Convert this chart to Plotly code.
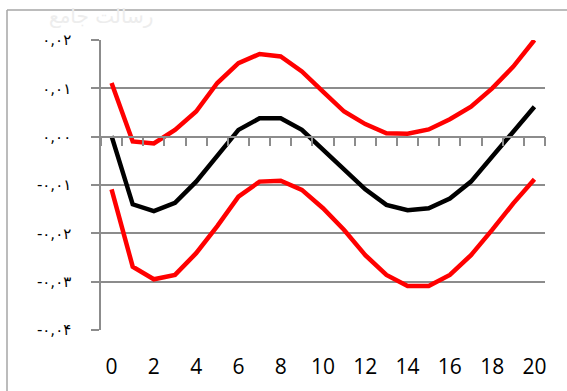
import plotly.graph_objects as go

x_vals = list(range(0, 21))
upper_red = [0.0111, -0.0010, -0.0014, 0.0014, 0.0052, 0.0111, 0.0152, 0.0171, 0.0166, 0.0135,
             0.0093, 0.0052, 0.0026, 0.0007, 0.0006, 0.0015, 0.0036, 0.0062, 0.0100, 0.0145, 0.0200]
middle_black = [0.0001, -0.0140, -0.0154, -0.0137, -0.0093, -0.0040, 0.0014, 0.0038, 0.0038, 0.0014,
                -0.0028, -0.0069, -0.0109, -0.0141, -0.0152, -0.0148, -0.0128, -0.0093, -0.0042, 0.0012, 0.0062]
lower_red = [-0.0109, -0.0269, -0.0295, -0.0286, -0.0241, -0.0185, -0.0124, -0.0093, -0.0091, -0.0110,
             -0.0148, -0.0193, -0.0245, -0.0286, -0.0309, -0.0309, -0.0286, -0.0245, -0.0193, -0.0138, -0.0088]

x_tick_vals = [0, 2, 4, 6, 8, 10, 12, 14, 16, 18, 20]
y_tick_vals = [0.02, 0.01, 0.0, -0.01, -0.02, -0.03, -0.04]
y_tick_text = ["۰,۰۲", "۰,۰۱", "۰,۰۰", "-۰,۰۱", "-۰,۰۲", "-۰,۰۳", "-۰,۰۴"]
boundary_ticks = [k + 0.5 for k in range(-1, 21)]

fig = go.Figure()
fig.add_trace(go.Scatter(x=x_vals, y=upper_red, mode="lines",
                         line=dict(color="#ff0000", width=4.5), showlegend=False))
fig.add_trace(go.Scatter(x=x_vals, y=middle_black, mode="lines",
                         line=dict(color="#000000", width=4.5), showlegend=False))
fig.add_trace(go.Scatter(x=x_vals, y=lower_red, mode="lines", xaxis="x2",
                         line=dict(color="#ff0000", width=4.5), showlegend=False))

grid_col = "#8c8c8c"
fig.update_layout(
    width=567, height=391,
    margin=dict(l=101, r=22, t=40, b=61, autoexpand=False),
    paper_bgcolor="white", plot_bgcolor="white",
    xaxis=dict(range=[-0.5, 20.5], tickvals=x_tick_vals, ticktext=[str(v) for v in x_tick_vals],
               showgrid=False, zeroline=False, showline=False, ticks="", automargin=False,
               ticklabelstandoff=22,
               tickfont=dict(family="Open Sans", size=21, color="black")),
    xaxis2=dict(range=[-0.5, 20.5], overlaying="x", anchor="free", position=0.6667,
                tickvals=boundary_ticks, showticklabels=False, showgrid=False, zeroline=False,
                showline=True, linecolor=grid_col, linewidth=1.5, automargin=False,
                ticks="outside", ticklen=9, tickcolor=grid_col, tickwidth=1.5),
    yaxis=dict(range=[-0.04, 0.02], tickvals=y_tick_vals, ticktext=y_tick_text,
               showgrid=True, gridcolor=grid_col, gridwidth=1.5, zeroline=False,
               showline=True, linecolor=grid_col, linewidth=1.5, automargin=False,
               ticks="outside", ticklen=8, tickcolor=grid_col, tickwidth=1.5,
               ticklabelstandoff=17,
               tickfont=dict(family="DejaVu Sans", size=15, color="black")),
    shapes=[
        dict(type="line", xref="paper", yref="paper", x0=-0.2117, x1=1.1, y0=1.1034, y1=1.1034,
             line=dict(color="#a6a6a6", width=1.5), layer="above"),
        dict(type="line", xref="paper", yref="paper", x0=-0.2117, x1=-0.2117, y0=-0.25, y1=1.1034,
             line=dict(color="#a6a6a6", width=1.5), layer="above"),
    ],
    annotations=[
        dict(text="رسالت جامع", xref="paper", yref="paper", x=0.0, y=1.035,
             xanchor="center", yanchor="bottom",
             showarrow=False, font=dict(family="DejaVu Sans", size=20, color="#ededed")),
    ],
)

fig.write_html("out.html", post_script="document.body.style.margin='0px';",
               config={"displayModeBar": False})
